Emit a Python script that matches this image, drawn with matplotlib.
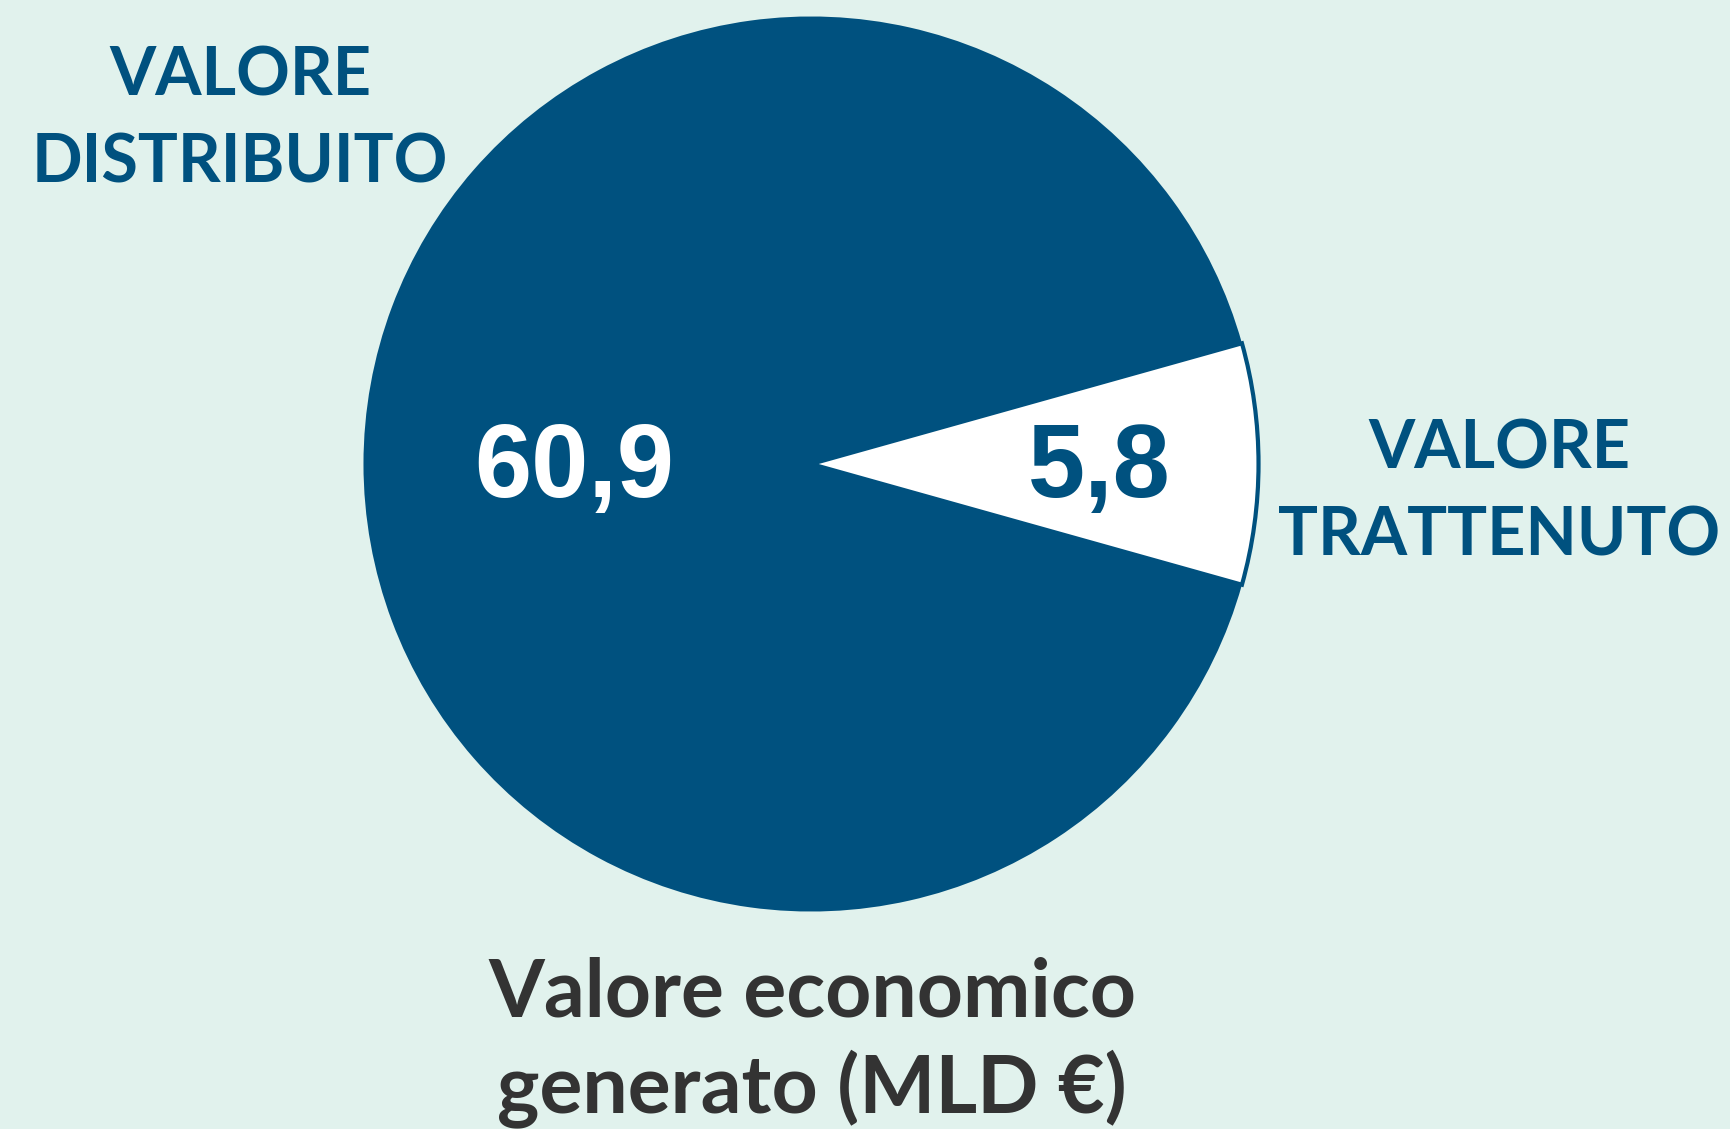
import numpy as np
import matplotlib.pyplot as plt

# values (MLD €)
labels = ['VALORE\nTRATTENUTO', 'VALORE\nDISTRIBUITO']
values = [5.8, 60.9]
value_text = ['5,8', '60,9']
title = 'Valore economico\ngenerato (MLD €)'

dark_blue = '#00517f'
bg_col = '#e1f2ed'

W, H = 1731, 1129
fig = plt.figure(figsize=(W / 100, H / 100), dpi=100, facecolor=bg_col)

# pie centre and radius in pixels (from top-left)
cx, cy, r = 811, 464, 452
ax = fig.add_axes([(cx - r) / W, (H - cy - r) / H, 2 * r / W, 2 * r / H])
ax.set_facecolor('none')

start = -values[0] / sum(values) * 360 / 2
wedges, _ = ax.pie(values, colors=['white', dark_blue], startangle=start,
                   counterclock=True, radius=1.0)
wedges[0].set_edgecolor(dark_blue)
wedges[0].set_linewidth(3)
ax.set_xlim(-1.01, 1.01)
ax.set_ylim(-1.01, 1.01)
ax.set_aspect('equal')
ax.axis('off')

# value labels inside slices
dists = [0.645, 0.53]
num_cols = [dark_blue, 'white']
for w, txt, d, c in zip(wedges, value_text, dists, num_cols):
    ang = np.deg2rad((w.theta1 + w.theta2) / 2)
    ax.text(d * np.cos(ang), d * np.sin(ang) - 0.015, txt, ha='center',
            va='center', fontsize=74, fontweight='bold', color=c,
            family='Liberation Sans')

# category labels
fig.text(1499 / W, 1 - 493 / H, labels[0], ha='center', va='center',
         fontsize=48, fontweight='bold', color=dark_blue, family='Lato',
         linespacing=1.5)
fig.text(240 / W, 1 - 120 / H, labels[1], ha='center', va='center',
         fontsize=48, fontweight='bold', color=dark_blue, family='Lato',
         linespacing=1.5)

fig.text(812 / W, 1 - 1042 / H, title, ha='center', va='center',
         fontsize=58, fontweight='bold', color='#333333', family='Lato',
         linespacing=1.3)

fig.savefig('out.png', dpi=100, facecolor=bg_col)
